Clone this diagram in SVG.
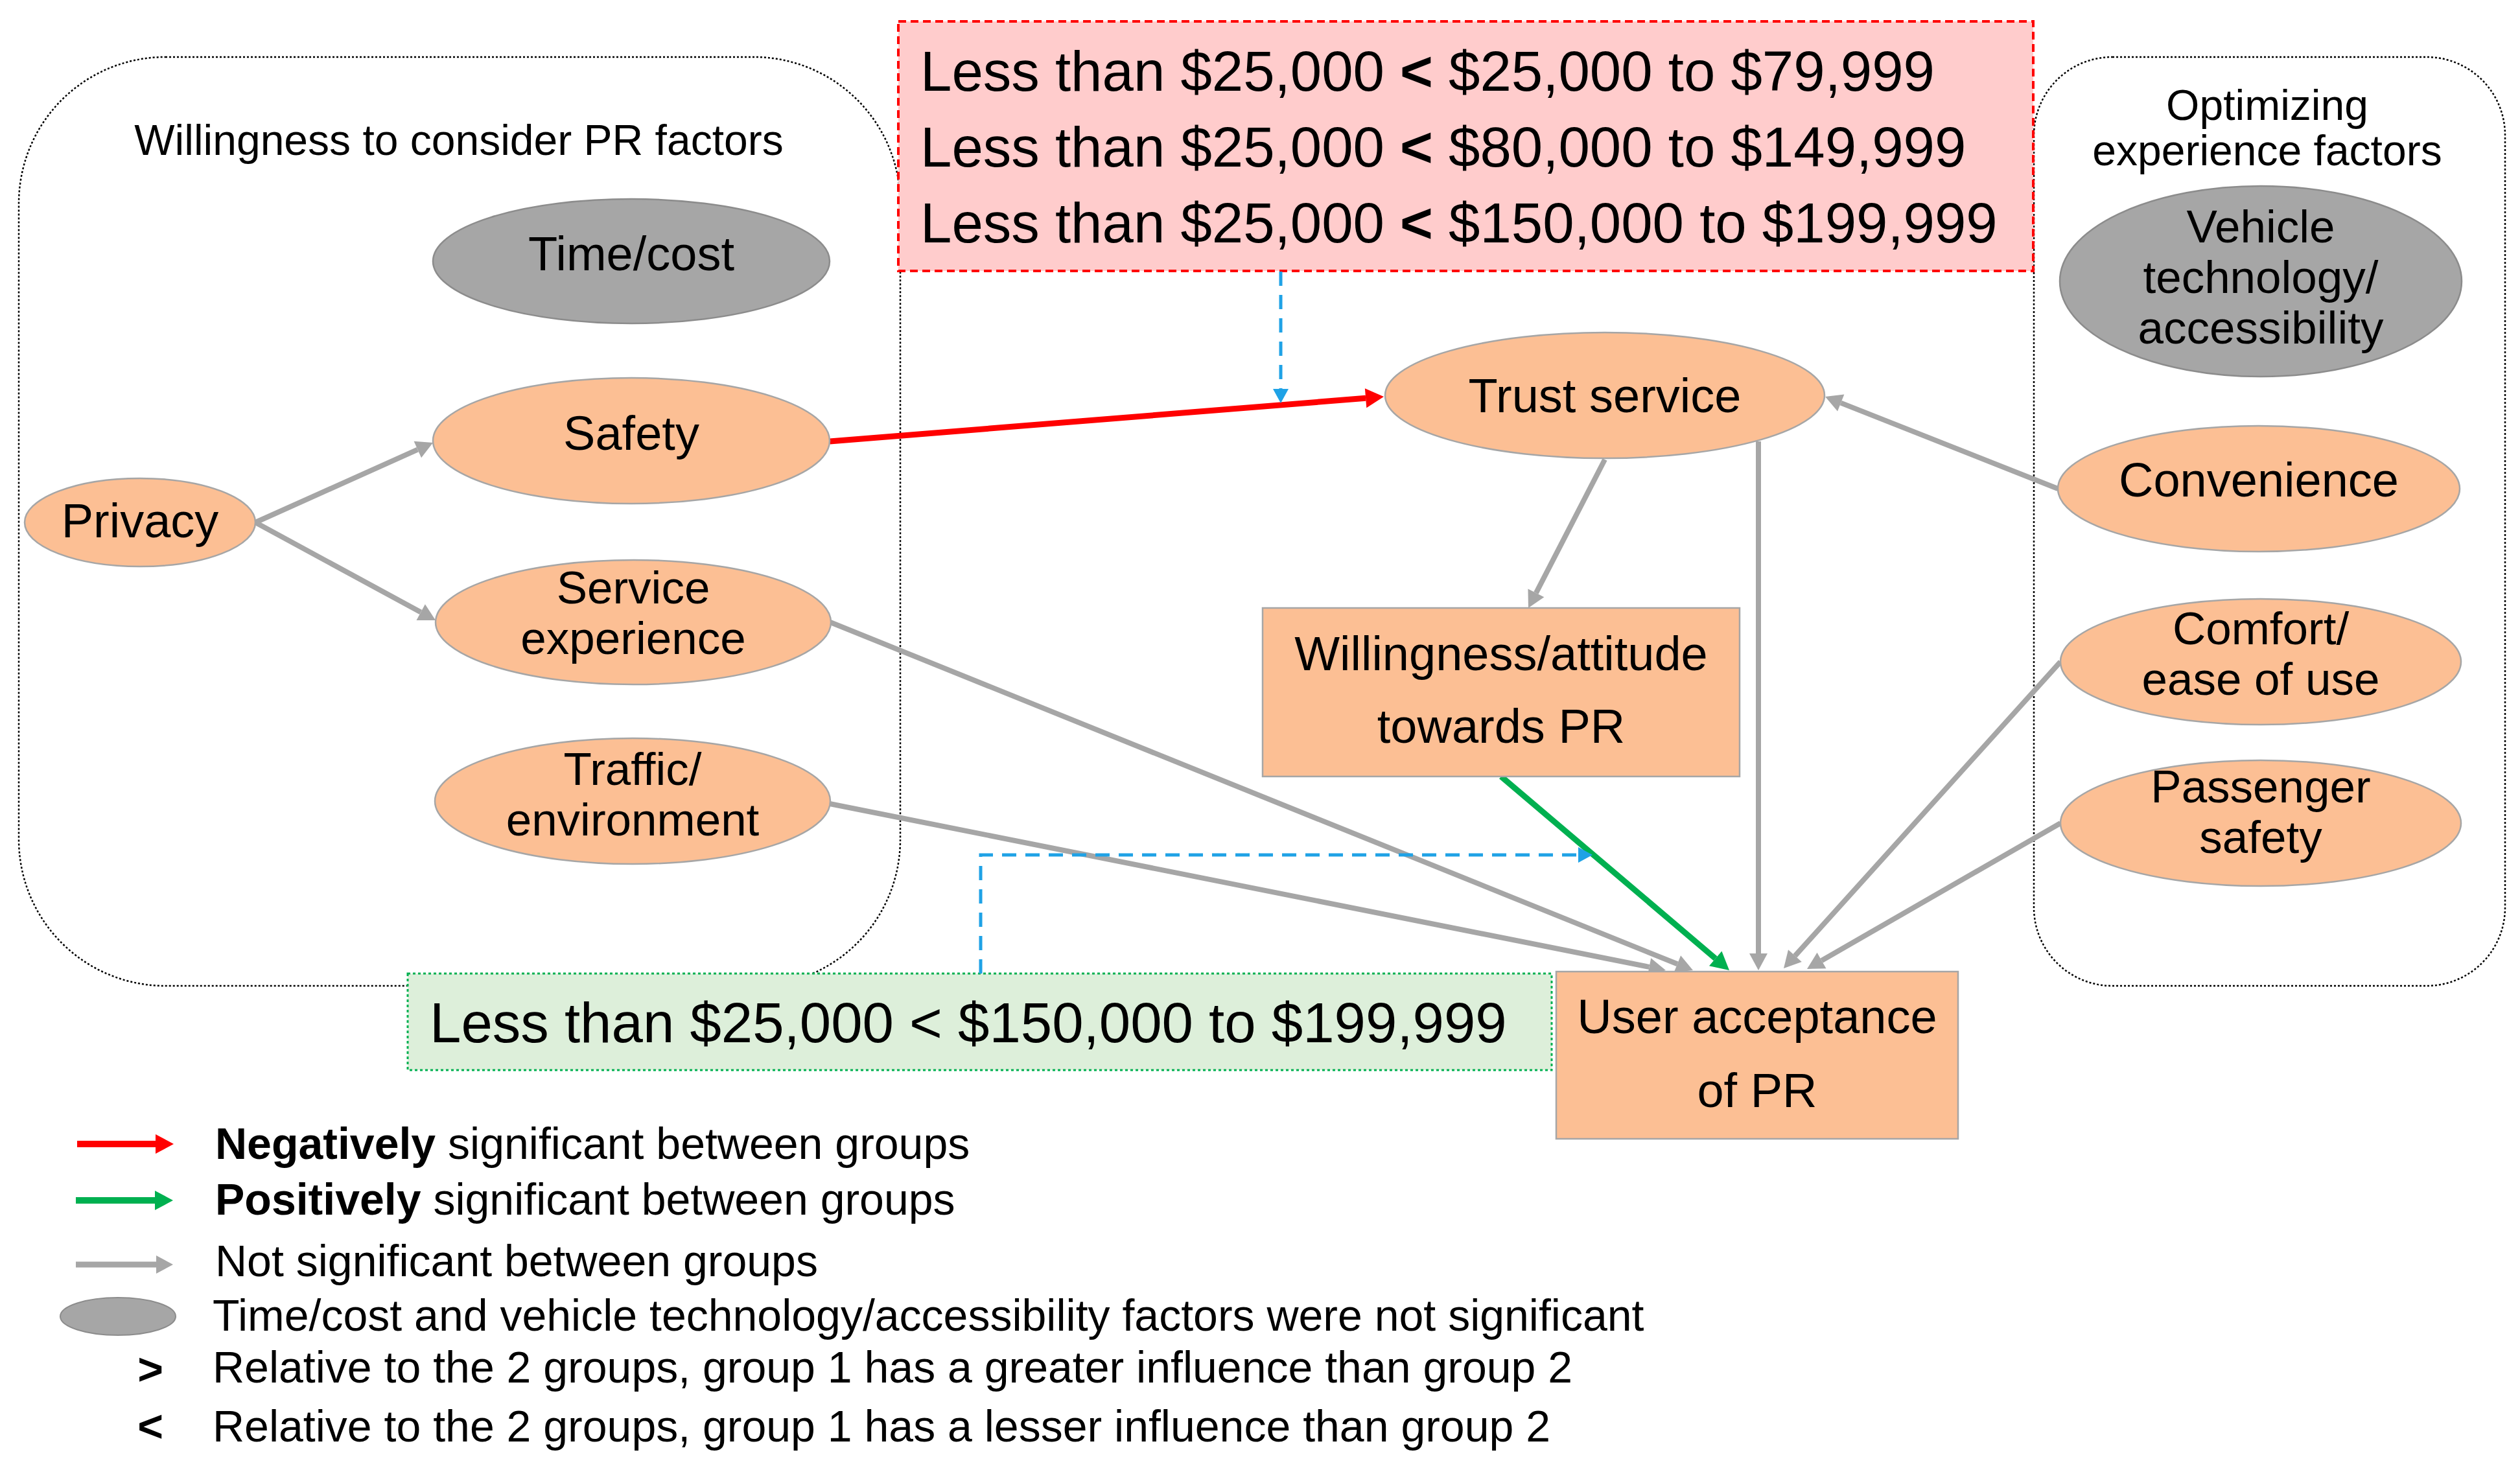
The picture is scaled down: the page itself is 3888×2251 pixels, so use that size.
<svg xmlns="http://www.w3.org/2000/svg" width="3888" height="2251" viewBox="0 0 3888 2251">
<defs>
<style>
text{font-family:"Liberation Sans",Arial,sans-serif;fill:#000}
.grp{fill:none;stroke:#000;stroke-width:2.5;stroke-dasharray:3 3}
.node{fill:#FCBF94;stroke:#A6A6A6;stroke-width:2.5}
.gnode{fill:#A6A6A6;stroke:#8C8C8C;stroke-width:2.5}
.nt{font-size:74px;text-anchor:middle}
.nt2{font-size:71px;text-anchor:middle}
.big{font-size:87px}
.leg{font-size:66px}
.leg2{font-size:68px}
.gray{fill:none;stroke:#A6A6A6;stroke-width:8}
.red{fill:none;stroke:#FF0000;stroke-width:9}
.green{fill:none;stroke:#00B050;stroke-width:9}
.blue{fill:none;stroke:#1FA2E6;stroke-width:5;stroke-dasharray:22 14}
</style>
<marker id="ag" markerUnits="userSpaceOnUse" markerWidth="26" markerHeight="28" refX="0" refY="14" orient="auto" overflow="visible"><path d="M0,0 L26,14 L0,28 z" fill="#A6A6A6"/></marker>
<marker id="ar" markerUnits="userSpaceOnUse" markerWidth="28" markerHeight="30" refX="0" refY="15" orient="auto" overflow="visible"><path d="M0,0 L28,15 L0,30 z" fill="#FF0000"/></marker>
<marker id="agr" markerUnits="userSpaceOnUse" markerWidth="28" markerHeight="30" refX="0" refY="15" orient="auto" overflow="visible"><path d="M0,0 L28,15 L0,30 z" fill="#00B050"/></marker>
<marker id="ab" markerUnits="userSpaceOnUse" markerWidth="22" markerHeight="24" refX="0" refY="12" orient="auto" overflow="visible"><path d="M0,0 L22,12 L0,24 z" fill="#1FA2E6"/></marker>
</defs>
<rect width="3888" height="2251" fill="#fff"/>

<g id="group-willingness">
<rect class="grp" x="29" y="88" width="1360" height="1433" rx="226" ry="226"/>
<text class="leg" x="708" y="239" text-anchor="middle">Willingness to consider PR factors</text>
</g>
<g id="group-optimizing">
<rect class="grp" x="3138" y="88" width="727" height="1433" rx="121" ry="121"/>
<text class="leg" x="3498" y="185" text-anchor="middle">Optimizing</text>
<text class="leg" x="3498" y="255" text-anchor="middle">experience factors</text>
</g>

<g id="note-income-red">
<rect x="1386" y="33" width="1751" height="385" fill="#FFCCCC" stroke="#FF0000" stroke-width="4" stroke-dasharray="12 7"/>
<text class="big" x="1420" y="140">Less than $25,000 <tspan font-weight="bold">&lt;</tspan> $25,000 to $79,999</text>
<text class="big" x="1420" y="257">Less than $25,000 <tspan font-weight="bold">&lt;</tspan> $80,000 to $149,999</text>
<text class="big" x="1420" y="374">Less than $25,000 <tspan font-weight="bold">&lt;</tspan> $150,000 to $199,999</text>
</g>
<g id="note-income-green">
<rect x="629" y="1502" width="1765" height="149" fill="#DDEFDA" stroke="#00B050" stroke-width="3" stroke-dasharray="4 4"/>
<text class="big" x="663" y="1608">Less than $25,000 &lt; $150,000 to $199,999</text>
</g>

<g id="connectors">
<path class="gray" d="M394,806 L644.3,693.6" marker-end="url(#ag)"/>
<path class="gray" d="M394,806 L649.2,944.6" marker-end="url(#ag)"/>
<path class="gray" d="M1281,960 L2587.9,1487.3" marker-end="url(#ag)"/>
<path class="gray" d="M1280,1240 L2544.5,1491.9" marker-end="url(#ag)"/>
<path class="gray" d="M2476,709 L2369.9,914.9" marker-end="url(#ag)"/>
<path class="gray" d="M2713,681 L2713,1471" marker-end="url(#ag)"/>
<path class="gray" d="M3175,754 L2840.2,621.6" marker-end="url(#ag)"/>
<path class="gray" d="M3179,1021 L2769.4,1474.7" marker-end="url(#ag)"/>
<path class="gray" d="M3179,1270 L2810.5,1482" marker-end="url(#ag)"/>
<path class="red" d="M1280,681 L2107.1,614.3" marker-end="url(#ar)"/>
<path class="green" d="M2316,1198 L2646.7,1478.9" marker-end="url(#agr)"/>
<path class="blue" d="M1976,419 L1976,600" marker-end="url(#ab)"/>
<path class="blue" d="M1513,1502 L1513,1319 L2435,1319" marker-end="url(#ab)"/>
</g>

<g id="node-timecost"><ellipse class="gnode" cx="974" cy="403" rx="306" ry="96"/><text class="nt" x="974" y="417">Time/cost</text></g>
<g id="node-safety"><ellipse class="node" cx="974" cy="680" rx="306" ry="97"/><text class="nt" x="974" y="694">Safety</text></g>
<g id="node-privacy"><ellipse class="node" cx="216" cy="806" rx="178" ry="68"/><text class="nt" x="216" y="829">Privacy</text></g>
<g id="node-service"><ellipse class="node" cx="977" cy="960" rx="305" ry="96"/><text class="nt2" x="977" y="931">Service</text><text class="nt2" x="977" y="1009">experience</text></g>
<g id="node-traffic"><ellipse class="node" cx="976" cy="1236" rx="305" ry="97"/><text class="nt2" x="976" y="1211">Traffic/</text><text class="nt2" x="976" y="1289">environment</text></g>
<g id="node-trust"><ellipse class="node" cx="2476" cy="610" rx="339" ry="97"/><text class="nt" x="2476" y="636">Trust service</text></g>
<g id="node-willingness"><rect class="node" x="1948" y="938" width="736" height="260"/><text class="nt" x="2316" y="1034">Willingness/attitude</text><text class="nt" x="2316" y="1146">towards PR</text></g>
<g id="node-acceptance"><rect class="node" x="2401" y="1499" width="620" height="258"/><text class="nt" x="2711" y="1594">User acceptance</text><text class="nt" x="2711" y="1708">of PR</text></g>
<g id="node-vehicle"><ellipse class="gnode" cx="3488" cy="434" rx="310" ry="147"/><text class="nt2" x="3488" y="374">Vehicle</text><text class="nt2" x="3488" y="452">technology/</text><text class="nt2" x="3488" y="530">accessibility</text></g>
<g id="node-convenience"><ellipse class="node" cx="3485" cy="754" rx="310" ry="97"/><text class="nt" x="3485" y="766">Convenience</text></g>
<g id="node-comfort"><ellipse class="node" cx="3488" cy="1021" rx="309" ry="97"/><text class="nt2" x="3488" y="994">Comfort/</text><text class="nt2" x="3488" y="1072">ease of use</text></g>
<g id="node-passenger"><ellipse class="node" cx="3488" cy="1270" rx="309" ry="97"/><text class="nt2" x="3488" y="1238">Passenger</text><text class="nt2" x="3488" y="1316">safety</text></g>

<g id="legend">
<path d="M119,1765 L240,1765" stroke="#FF0000" stroke-width="10" marker-end="url(#ar)"/>
<path d="M117,1852 L239,1852" stroke="#00B050" stroke-width="10" marker-end="url(#agr)"/>
<path d="M117,1951 L241,1951" stroke="#A6A6A6" stroke-width="9" marker-end="url(#ag)"/>
<ellipse cx="182" cy="2031" rx="89" ry="29" fill="#A6A6A6" stroke="#8C8C8C" stroke-width="2"/>
<text class="leg2" x="332" y="1788"><tspan font-weight="bold">Negatively</tspan> significant between groups</text>
<text class="leg2" x="332" y="1874"><tspan font-weight="bold">Positively</tspan> significant between groups</text>
<text class="leg2" x="332" y="1969">Not significant between groups</text>
<text class="leg2" x="328" y="2053">Time/cost and vehicle technology/accessibility factors were not significant</text>
<text class="leg2" x="232" y="2136" text-anchor="middle" font-weight="bold" font-size="74px">&gt;</text>
<text class="leg2" x="328" y="2133">Relative to the 2 groups, group 1 has a greater influence than group 2</text>
<text class="leg2" x="232" y="2224" text-anchor="middle" font-weight="bold" font-size="74px">&lt;</text>
<text class="leg2" x="328" y="2224">Relative to the 2 groups, group 1 has a lesser influence than group 2</text>
</g>
</svg>
